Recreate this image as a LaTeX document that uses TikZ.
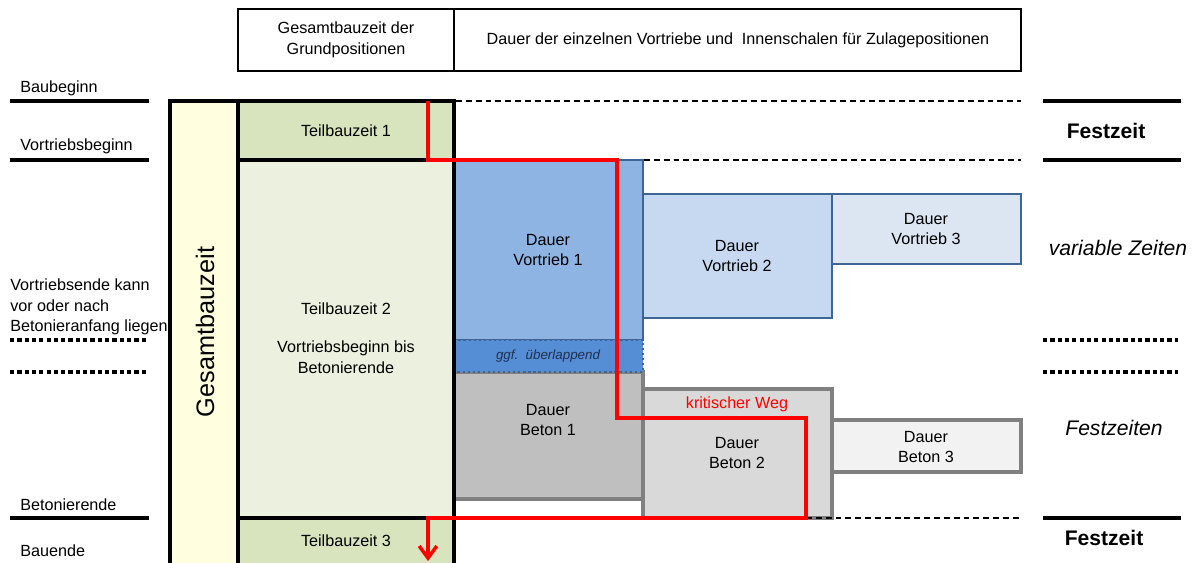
\documentclass[tikz,border=0pt]{standalone}
\usepackage{fontspec}
\setmainfont{Liberation Sans}
\usetikzlibrary{arrows.meta}

% Farben
\definecolor{gelbhell}{HTML}{FFFFDF}
\definecolor{gruen}{HTML}{D7E4BD}
\definecolor{gruenhell}{HTML}{EBF1DE}
\definecolor{blau1}{HTML}{8EB4E3}
\definecolor{blau2}{HTML}{C6D9F1}
\definecolor{blau3}{HTML}{DCE6F2}
\definecolor{blaurand}{HTML}{3D6596}
\definecolor{blauband}{HTML}{558ED5}
\definecolor{blautext}{HTML}{1F3050}
\definecolor{grau1}{HTML}{BFBFBF}
\definecolor{grau2}{HTML}{D9D9D9}
\definecolor{grau3}{HTML}{F2F2F2}
\definecolor{graurand}{HTML}{808080}

\tikzset{
  txt/.style={font=\fontsize{11.5}{14.5}\selectfont, align=center, inner sep=0pt},
  links/.style={txt, anchor=west, align=left},
  gross/.style={inner sep=0pt, font=\fontsize{15}{18}\selectfont},
  marke/.style={line width=2.6pt},
  punkte/.style={line width=3pt, dash pattern=on 3pt off 2.2pt},
  strich/.style={line width=1.3pt, dash pattern=on 4.2pt off 2.8pt},
  vortrieb/.style={draw=blaurand, line width=2.1pt},
  beton/.style={draw=graurand, line width=2.4pt},
  kritisch/.style={red, line width=2.5pt, -{Straight Barb[length=3mm, width=4.4mm]}},
}

\begin{document}
\begin{tikzpicture}[x=0.025cm, y=-0.025cm]
  \clip (0,0) rectangle (1195,562);

  % Kopfzeile
  \draw[line width=1.5pt] (238,9) rectangle (454,71);
  \draw[line width=1.5pt] (454,9) rectangle (1021,71);
  \node[txt] (kopfGrund) at (346,40) {Gesamtbauzeit der\\Grundpositionen};
  \node[txt] (kopfZulage) at (738,40) {Dauer der einzelnen Vortriebe und\ \ Innenschalen f\"ur Zulagepositionen};

  % Grundpositionen
  \fill[gelbhell] (170,101) rectangle (238,600);
  \fill[gruen] (238,101) rectangle (454,160);
  \fill[gruenhell] (238,160) rectangle (454,518);
  \fill[gruen] (238,518) rectangle (454,600);
  \node[inner sep=0pt, rotate=90, font=\fontsize{18}{20}\selectfont] (gesamt) at (205,332) {Gesamtbauzeit};
  \node[txt] (tb1) at (346,131) {Teilbauzeit 1};
  \node[txt] (tb2) at (346,338) {Teilbauzeit 2\\[13pt]Vortriebsbeginn bis\\Betonierende};
  \node[txt] (tb3) at (346,541) {Teilbauzeit 3};

  % Vortriebe
  \filldraw[vortrieb, fill=blau1] (454,160) rectangle (643,340);
  \filldraw[vortrieb, fill=blau2] (643,194) rectangle (832,318);
  \filldraw[vortrieb, fill=blau3] (832,194) rectangle (1021,264);
  \node[txt] (vt1) at (548,250) {Dauer\\Vortrieb 1};
  \node[txt] (vt2) at (737,256) {Dauer\\Vortrieb 2};
  \node[txt] (vt3) at (926,229) {Dauer\\Vortrieb 3};

  % Innenschalen
  \filldraw[beton, fill=grau1] (454,372) rectangle (643,499);
  \filldraw[beton, fill=grau2] (643,389) rectangle (832,518);
  \filldraw[beton, fill=grau3] (832,420) rectangle (1021,472);
  \node[txt] (bt1) at (548,420) {Dauer\\Beton 1};
  \node[txt] (bt2) at (737,453) {Dauer\\Beton 2};
  \node[txt] (bt3) at (926,447) {Dauer\\Beton 3};

  % Ueberlappung
  \filldraw[fill=blauband, draw=blaurand, line width=1.6pt, dash pattern=on 1.6pt off 2pt]
    (454,340) rectangle (643,372);
  \node[inner sep=0pt, text=blautext, font=\fontsize{9.5}{11}\selectfont\itshape] (ueber) at (548,356) {ggf.\ \ \"uberlappend};

  % Rahmen Grundpositionen
  \draw[line width=2.3pt] (170,101) rectangle (454,600);
  \draw[line width=2.3pt] (238,101) -- (238,600);
  \draw[line width=2.3pt] (238,160) -- (454,160);
  \draw[line width=2.3pt] (238,518) -- (454,518);

  % Zeitgrenzen
  \draw[strich] (456,101) -- (1021,101);
  \draw[strich] (644,160) -- (1021,160);
  \draw[strich] (806,518) -- (1021,518);

  % kritischer Weg
  \coordinate (kwA) at (428,101);
  \coordinate (kwB) at (428,160);
  \coordinate (kwC) at (617,160);
  \coordinate (kwD) at (617,418);
  \coordinate (kwE) at (806,418);
  \coordinate (kwF) at (806,518);
  \coordinate (kwG) at (428,518);
  \coordinate (kwH) at (428,561);
  \draw[kritisch] (kwA) -- (kwB) -- (kwC) -- (kwD) -- (kwE) -- (kwF) -- (kwG) -- (kwH);
  \node[txt, red] (kritLabel) at (737,404) {kritischer Weg};

  % Beschriftung links
  \draw[marke] (10,101) -- (149,101);
  \draw[marke] (10,160) -- (149,160);
  \draw[marke] (10,518) -- (149,518);
  \draw[punkte] (10,340) -- (146,340);
  \draw[punkte] (10,372) -- (146,372);
  \node[links] (baubeginn) at (20,88) {Baubeginn};
  \node[links] (vortriebsbeginn) at (20,146) {Vortriebsbeginn};
  \node[links] (vortriebsende) at (10,307) {Vortriebsende kann\\vor oder nach\\Betonieranfang liegen};
  \node[links] (betonierende) at (20,505) {Betonierende};
  \node[links] (bauende) at (20,551) {Bauende};

  % Beschriftung rechts
  \draw[marke] (1043,101) -- (1181,101);
  \draw[marke] (1043,160) -- (1181,160);
  \draw[marke] (1043,518) -- (1181,518);
  \draw[punkte] (1043,340) -- (1178,340);
  \draw[punkte] (1043,372) -- (1178,372);
  \node[gross, font=\fontsize{15}{18}\selectfont\bfseries] (fest1) at (1106,131) {Festzeit};
  \node[gross, font=\fontsize{15}{18}\selectfont\itshape] (variabel) at (1118,248) {variable Zeiten};
  \node[gross, font=\fontsize{15}{18}\selectfont\itshape] (festzeiten) at (1114,428) {Festzeiten};
  \node[gross, font=\fontsize{15}{18}\selectfont\bfseries] (fest2) at (1104,538) {Festzeit};
\end{tikzpicture}
\end{document}
